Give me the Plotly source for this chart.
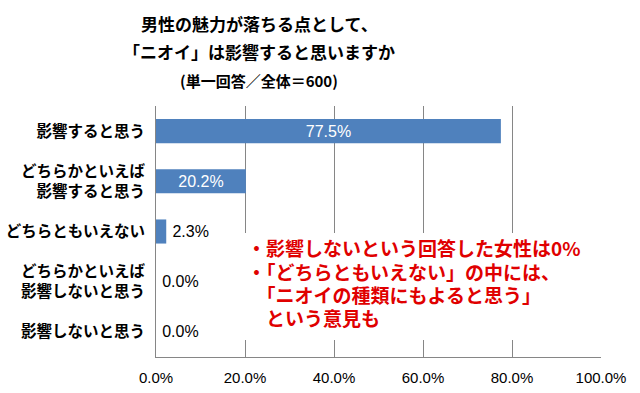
import plotly.graph_objects as go

categories = ["影響すると思う", "どちらかといえば<br>影響すると思う", "どちらともいえない",
              "どちらかといえば<br>影響しないと思う", "影響しないと思う"]
values = [77.5, 20.2, 2.3, 0.0, 0.0]
label_pos = ["inside", "inside", "outside", "outside", "outside"]
x_ticks = [0, 20, 40, 60, 80, 100]
x_tick_labels = ["0.0%", "20.0%", "40.0%", "60.0%", "80.0%", "100.0%"]
title_lines = ["男性の魅力が落ちる点として、", "「ニオイ」は影響すると思いますか", "(単一回答／全体＝600)"]
note_lines = ["・影響しないという回答した女性は0%", "・「どちらともいえない」の中には、",
              "　「ニオイの種類にもよると思う」", "　という意見も"]

W, H = 640, 393
L, R, T, B = 156, 601, 106, 357

def px_x(p):
    return (p - L) / (R - L)

def px_y(p):
    return (B - p) / (B - T)

JP = "Noto Sans CJK JP"
NUM = "Liberation Sans, Arial, sans-serif"

texts = ["\u2009" + f"{v:.1f}%" if pos == "outside" else f"{v:.1f}%" for v, pos in zip(values, label_pos)]
text_colors = ["white" if pos == "inside" else "black" for pos in label_pos]

fig = go.Figure(go.Bar(
    y=categories, x=values, orientation="h",
    marker=dict(color="#4F81BD", line=dict(width=0)),
    text=texts, textposition=label_pos, insidetextanchor="middle",
    textfont=dict(family=NUM, size=16, color=text_colors),
    cliponaxis=False,
))

fig.update_layout(
    width=W, height=H,
    margin=dict(l=L, r=W - R, t=T, b=H - B, pad=0, autoexpand=False),
    paper_bgcolor="white", plot_bgcolor="white",
    bargap=0.52, showlegend=False,
    font=dict(family=JP, color="black"),
)
fig.update_xaxes(
    range=[0, 100], tickvals=x_ticks, ticktext=x_tick_labels,
    tickfont=dict(family=NUM, size=15, color="black"),
    showgrid=True, gridcolor="#868686", gridwidth=1,
    showline=True, linecolor="#868686", linewidth=1,
    zeroline=False, ticks="", ticklabelstandoff=7, automargin=False,
)
fig.update_yaxes(
    categoryorder="array", categoryarray=categories, autorange="reversed",
    tickfont=dict(family=JP, size=15.5, color="black", weight="bold"),
    showline=True, linecolor="#868686", linewidth=1,
    showgrid=False, ticks="", ticklabelstandoff=7, automargin=False,
)

title_sizes = [17, 17, 15]
title_y = [23, 52, 80]
for line, sz, yy in zip(title_lines, title_sizes, title_y):
    fig.add_annotation(text=f"<b>{line}</b>", xref="paper", yref="paper",
                       x=px_x(259), y=px_y(yy), xanchor="center", yanchor="middle",
                       showarrow=False, font=dict(family=JP, size=sz, color="black"))

# white box behind the note (hides gridlines as in the original)
fig.add_shape(type="rect", xref="paper", yref="paper",
              x0=px_x(236), x1=px_x(625), y0=px_y(340), y1=px_y(233),
              fillcolor="white", line=dict(width=0), layer="above")

note_y = [248, 271, 294, 317]
for line, yy in zip(note_lines, note_y):
    fig.add_annotation(
        text=f"<b>{line}</b>", xref="paper", yref="paper", x=px_x(245), y=px_y(yy),
        xanchor="left", yanchor="middle", align="left", showarrow=False,
        font=dict(family=JP, size=19, color="#E00000"),
    )

fig.write_html("out.html", post_script="document.body.style.margin='0px';",
               config={"displayModeBar": False})
